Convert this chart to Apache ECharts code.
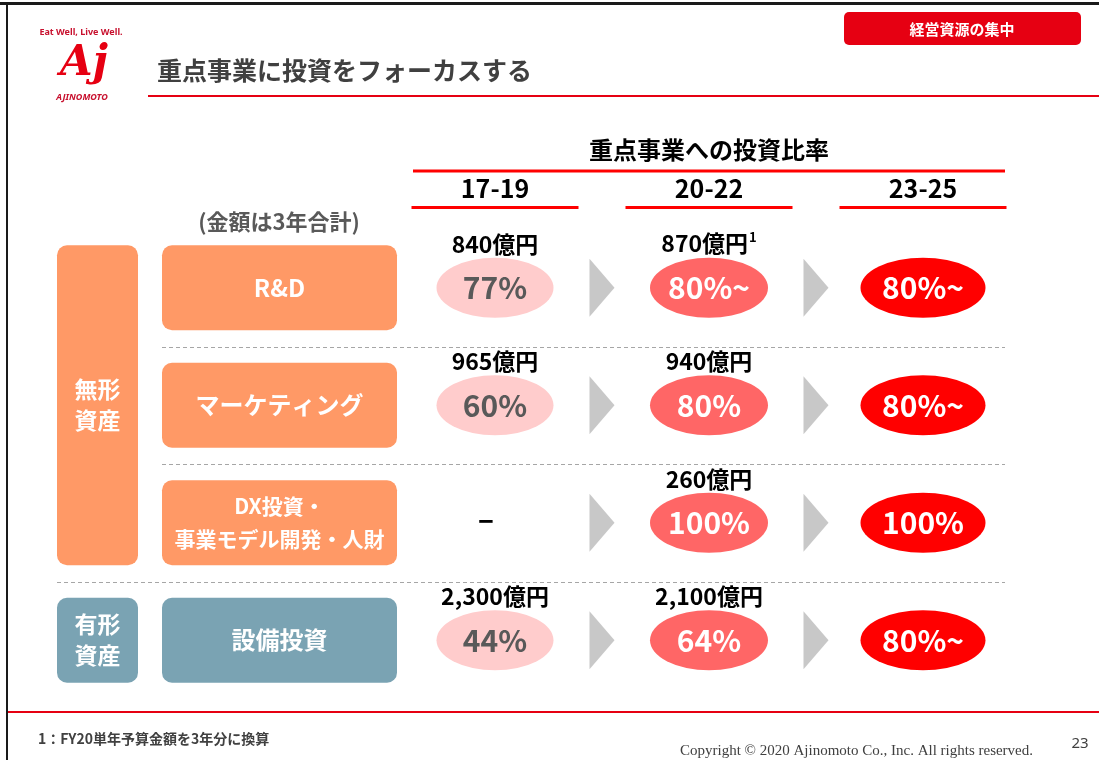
<!DOCTYPE html>
<html lang="ja">
<head>
<meta charset="utf-8">
<title>重点事業に投資をフォーカスする</title>
<script src="https://cdn.jsdelivr.net/npm/echarts@6/dist/echarts.min.js"></script>
<style>
  html, body { margin: 0; padding: 0; background: #fff; }
  #chart { width: 1099px; height: 760px; }
</style>
</head>
<body>
<div id="chart"></div>
<script>
// 重点事業への投資比率（期間 × 事業）
const periods = ['17-19', '20-22', '23-25'];
const items = ['R&D', 'マーケティング', 'DX投資・\n事業モデル開発・人財', '設備投資'];
const itemGroups = ['無形資産', '無形資産', '無形資産', '有形資産'];

const ratio1719 = [77, 60, null, 44];
const ratio2022 = [80, 80, 100, 64];
const ratio2325 = [80, 80, 100, 80];
// true = "〜"（以上）
const orMore1719 = [false, false, false, false];
const orMore2022 = [true, false, false, false];
const orMore2325 = [true, true, false, true];

// 金額（億円、3年合計）
const amount1719 = [840, 965, null, 2300];
const amount2022 = [870, 940, 260, 2100];
const note2022 = [1, null, null, null];

const FONT = '"Noto Sans CJK JP", "Noto Sans", sans-serif';
const RED = '#E60012';
const BRIGHT_RED = '#FF0000';
const ORANGE = '#FF9966';
const TEAL = '#7AA3B3';

const chart = echarts.init(document.getElementById('chart'));

function ratioSeries(p, values, orMore, fill, textColor, size) {
    return {
        type: 'scatter',
        name: periods[p],
        symbol: 'circle',
        symbolSize: size,
        silent: true,
        z: 3,
        itemStyle: { opacity: 1 },
        data: values.map((v, i) => ({
            value: [p, i],
            ratio: v,
            orMore: orMore[i],
            itemStyle: { color: v == null ? 'transparent' : fill, opacity: 1 }
        })),
        label: {
            show: true,
            position: 'inside',
            fontFamily: FONT,
            fontWeight: 'bold',
            fontSize: 30,
            formatter: (prm) => prm.data.ratio == null ? '{dash|–}' : prm.data.ratio + '%' + (prm.data.orMore ? '~' : ''),
            color: textColor,
            rich: {
                dash: { fontFamily: FONT, fontWeight: 'bold', fontSize: 30, color: '#000', padding: [0, 18, 8, 0] }
            }
        }
    };
}

function amountSeries(p, values, notes) {
    return {
        type: 'scatter',
        name: periods[p] + ' 金額',
        symbol: 'rect',
        symbolSize: [117, 60],
        silent: true,
        itemStyle: { color: 'transparent', opacity: 1 },
        data: values.map((v, i) => ({ value: [p, i], amount: v, note: notes ? notes[i] : null }))
            .filter(d => d.amount != null),
        label: {
            show: true,
            position: 'top',
            distance: 2,
            formatter: (prm) => '{a|' + prm.data.amount.toLocaleString('en-US') + '億円}' +
                (prm.data.note ? '{s|' + prm.data.note + '}' : ''),
            rich: {
                a: { fontFamily: FONT, fontWeight: 'bold', fontSize: 23, color: '#000' },
                s: { fontFamily: FONT, fontWeight: 'bold', fontSize: 13, color: '#000', padding: [0, 0, 12, 1] }
            }
        }
    };
}

// 矢印（期間の間）
const arrowData = items.flatMap((_, i) => periods.slice(1).map((_, t) => [t, i]));
// 区切り線（行の間）
const sepData = items.slice(1).map((_, r) => [0, r]);
// 無形資産 / 有形資産 のまとまり
const groupData = [];
itemGroups.forEach((g, i) => {
    const last = groupData[groupData.length - 1];
    if (last && last.name === g) last.value[2] = i;
    else groupData.push({ name: g, value: [0, i, i] });
});

const option = {
    backgroundColor: '#fff',
    animation: false,
    grid: { left: 388, right: 69, top: 229, bottom: 61, outerBoundsMode: 'none' },
    xAxis: {
        type: 'category',
        data: periods,
        position: 'top',
        axisLine: { show: false },
        axisTick: { show: false },
        splitLine: { show: false },
        axisLabel: {
            interval: 0,
            margin: 20,
            formatter: (v) => '{p|' + v + '}\n{u| }',
            rich: {
                p: { fontFamily: FONT, fontSize: 25, fontWeight: 'bold', color: '#000', lineHeight: 36 },
                u: { width: 167, height: 3, lineHeight: 3, fontSize: 2, backgroundColor: BRIGHT_RED }
            }
        }
    },
    yAxis: {
        type: 'category',
        inverse: true,
        data: items.map((name, i) => ({
            value: name,
            textStyle: {
                align: 'center',
                verticalAlign: 'middle',
                backgroundColor: itemGroups[i] === '有形資産' ? TEAL : ORANGE,
                fontSize: name.indexOf('\n') >= 0 ? 21 : 24
            }
        })),
        axisLine: { show: false },
        axisTick: { show: false },
        splitLine: { show: false },
        axisLabel: {
            interval: 0,
            align: 'center',
            verticalAlign: 'middle',
            margin: 108.5,
            width: 235,
            height: 85,
            borderRadius: 10,
            color: '#fff',
            fontFamily: FONT,
            fontWeight: 'bold',
            lineHeight: 33
        }
    },
    graphic: [
        // slide frame
        { type: 'rect', shape: { x: 0, y: 2, width: 1099, height: 3 }, style: { fill: '#1a1a1a' } },
        { type: 'rect', shape: { x: 6, y: 2, width: 2, height: 758 }, style: { fill: '#1a1a1a' } },
        // logo
        { type: 'text', x: 81, y: 32, style: { text: 'Eat Well, Live Well.', font: 'bold 9px "Noto Sans"', fill: '#C8102E', align: 'center', verticalAlign: 'middle' } },
        { type: 'text', x: 84, y: 64, style: { text: 'Aj', font: 'italic bold 42px "DejaVu Serif"', fill: RED, align: 'center', verticalAlign: 'middle' } },
        { type: 'text', x: 82, y: 97, style: { text: 'AJINOMOTO', font: 'italic bold 9px "Noto Sans"', fill: '#C8102E', align: 'center', verticalAlign: 'middle' } },
        // title
        { type: 'text', x: 157, y: 70, style: { text: '重点事業に投資をフォーカスする', font: 'bold 25px ' + FONT, fill: '#404040', verticalAlign: 'middle' } },
        { type: 'line', shape: { x1: 148, y1: 96, x2: 1099, y2: 96 }, style: { stroke: RED, lineWidth: 2 } },
        // tag
        { type: 'rect', shape: { x: 844, y: 12, width: 237, height: 33, r: 5 }, style: { fill: RED } },
        { type: 'text', x: 962, y: 29, style: { text: '経営資源の集中', font: 'bold 15px ' + FONT, fill: '#fff', align: 'center', verticalAlign: 'middle' } },
        // table header
        { type: 'text', x: 709, y: 150, style: { text: '重点事業への投資比率', font: 'bold 24px ' + FONT, fill: '#000', align: 'center', verticalAlign: 'middle' } },
        { type: 'line', shape: { x1: 413, y1: 171, x2: 1005, y2: 171 }, style: { stroke: BRIGHT_RED, lineWidth: 3 } },
        { type: 'text', x: 279, y: 222, style: { text: '(金額は3年合計)', font: 'bold 22px ' + FONT, fill: '#595959', align: 'center', verticalAlign: 'middle' } },
        // footer
        { type: 'line', shape: { x1: 8, y1: 712, x2: 1099, y2: 712 }, style: { stroke: RED, lineWidth: 2 } },
        { type: 'text', x: 38, y: 739, style: { text: '1：FY20単年予算金額を3年分に換算', font: 'bold 14px ' + FONT, fill: '#404040', verticalAlign: 'middle' } },
        { type: 'text', x: 680, y: 751, style: { text: 'Copyright © 2020 Ajinomoto Co., Inc. All rights reserved.', font: '15px "Liberation Serif"', fill: '#404040', verticalAlign: 'middle' } },
        { type: 'text', x: 1080, y: 744, style: { text: '23', font: '15px "Noto Sans"', fill: '#404040', align: 'center', verticalAlign: 'middle' } }
    ],
    series: [
        {
            type: 'custom',
            name: 'groups',
            silent: true,
            z: 1,
            data: groupData,
            renderItem: (params, api) => {
                const a = api.coord([0, api.value(1)]);
                const b = api.coord([0, api.value(2)]);
                const band = api.size([0, 1])[1];
                const pad = (band - 85) / 2;
                const x = params.coordSys.x - 331;
                const top = a[1] - band / 2 + pad;
                const bottom = b[1] + band / 2 - pad;
                const name = groupData[params.dataIndex].name;
                return {
                    type: 'rect',
                    shape: { x: x, y: top, width: 81, height: bottom - top, r: 10 },
                    style: { fill: name === '有形資産' ? TEAL : ORANGE },
                    textContent: {
                        style: {
                            text: name.slice(0, 2) + '\n' + name.slice(2),
                            font: 'bold 23px ' + FONT,
                            fill: '#fff',
                            lineHeight: 31,
                            align: 'center'
                        }
                    },
                    textConfig: { position: 'inside' }
                };
            }
        },
        {
            type: 'custom',
            name: 'separators',
            silent: true,
            z: 1,
            data: sepData,
            renderItem: (params, api) => {
                const r = api.value(1);
                const y = (api.coord([0, r])[1] + api.coord([0, r + 1])[1]) / 2;
                const sameGroup = itemGroups[r] === itemGroups[r + 1];
                const x1 = params.coordSys.x - (sameGroup ? 226 : 331);
                const x2 = params.coordSys.x + params.coordSys.width - 25;
                return {
                    type: 'line',
                    shape: { x1: x1, y1: Math.round(y) + 0.5, x2: x2, y2: Math.round(y) + 0.5 },
                    style: { stroke: '#A6A6A6', lineWidth: 1, lineDash: [4, 3] }
                };
            }
        },
        {
            type: 'custom',
            name: 'arrows',
            silent: true,
            z: 2,
            data: arrowData,
            renderItem: (params, api) => {
                const a = api.coord([api.value(0), api.value(1)]);
                const b = api.coord([api.value(0) + 1, api.value(1)]);
                const cx = (a[0] + b[0]) / 2;
                const cy = a[1];
                const w = 25, h = 58;
                return {
                    type: 'polygon',
                    shape: { points: [[cx - w / 2, cy - h / 2], [cx + w / 2, cy], [cx - w / 2, cy + h / 2]] },
                    style: { fill: '#C8C8C8' }
                };
            }
        },
        ratioSeries(0, ratio1719, orMore1719, '#FFCCCC', '#595959', [117, 60]),
        ratioSeries(1, ratio2022, orMore2022, '#FF6666', '#fff', [118, 60]),
        ratioSeries(2, ratio2325, orMore2325, BRIGHT_RED, '#fff', [125, 60]),
        amountSeries(0, amount1719, null),
        amountSeries(1, amount2022, note2022)
    ]
};

chart.setOption(option);
</script>
</body>
</html>
